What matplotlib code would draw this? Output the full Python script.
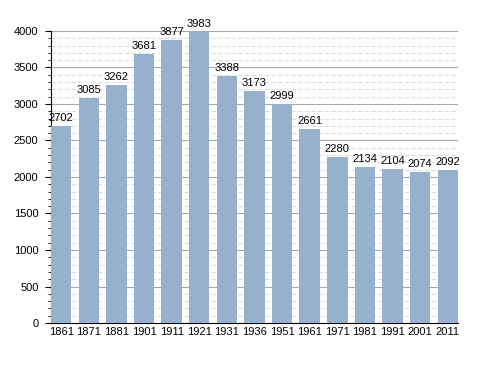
import matplotlib.pyplot as plt
from matplotlib.ticker import MultipleLocator

plt.rcParams['font.family'] = ['Liberation Sans', 'DejaVu Sans']

years = ['1861', '1871', '1881', '1901', '1911', '1921', '1931', '1936',
         '1951', '1961', '1971', '1981', '1991', '2001', '2011']
population = [2702, 3085, 3262, 3681, 3877, 3983, 3388, 3173,
              2999, 2661, 2280, 2134, 2104, 2074, 2092]

fig = plt.figure(figsize=(4.88, 3.73), dpi=100)
ax = fig.add_axes([0.1045, 0.134, 0.834, 0.783])

x = range(len(years))
ax.bar(x, population, width=0.74, color='#97b0cb', zorder=3)
for xi, v in zip(x, population):
    ax.text(xi, v + 40, str(v), ha='center', va='bottom', fontsize=8, zorder=4)

ax.set_xlim(-0.37, len(years) - 1 + 0.37)
ax.set_ylim(0, 4000)
ax.set_xticks(list(x))
ax.set_xticklabels(years, fontsize=8)
ax.tick_params(axis='x', length=0, pad=3)
ax.yaxis.set_major_locator(MultipleLocator(500))
ax.yaxis.set_minor_locator(MultipleLocator(100))
ax.tick_params(axis='y', which='major', length=4, labelsize=8, pad=5)
ax.tick_params(axis='y', which='minor', length=2)
ax.grid(True, axis='y', which='major', color='#a8a8a8', linewidth=0.8, zorder=0)
ax.grid(True, axis='y', which='minor', color='#dcdcdc', linewidth=0.8,
        linestyle=(0, (4, 2)), zorder=0)
ax.spines['top'].set_visible(False)
ax.spines['right'].set_visible(False)

plt.savefig('out.png', dpi=100)
